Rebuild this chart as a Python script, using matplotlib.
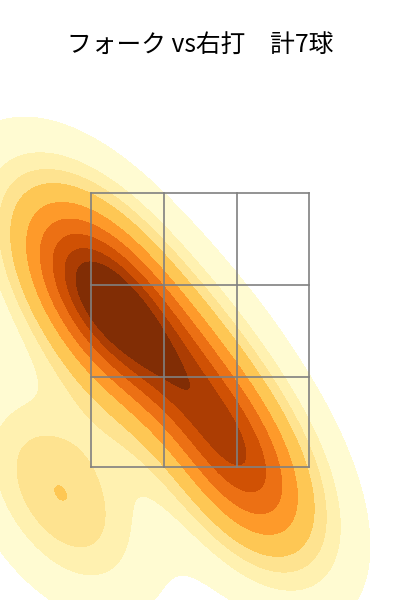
import matplotlib
matplotlib.use("Agg")
import matplotlib.pyplot as plt
import seaborn as sns

plate_x = [-1.07, -1.023, -0.702, -0.63, -0.076, 0.305, 0.397]
plate_z = [1.30, 2.996, 2.901, 2.41, 2.266, 1.624, 1.318]
zone_x = [-0.832, -0.275, 0.282, 0.832]
zone_z = [1.50, 2.157, 2.828, 3.50]
title = "フォーク vs右打　計7球"

fig = plt.figure(figsize=(4, 6), dpi=100)
ax = fig.add_axes([0, 0, 1, 1])
sns.kdeplot(x=plate_x, y=plate_z, fill=True, cmap="YlOrBr", levels=10, thresh=0.05, ax=ax)
for x in zone_x:
    ax.plot([x, x], [zone_z[0], zone_z[-1]], color="gray", lw=1.2)
for z in zone_z:
    ax.plot([zone_x[0], zone_x[-1]], [z, z], color="gray", lw=1.2)
ax.set_xlim(-1.527, 1.527)
ax.set_ylim(0.529, 4.909)
ax.axis("off")
fig.text(0.5, 1 - 44.5 / 600, title, ha="center", va="center", fontsize=17.8,
         family=["Noto Sans CJK JP", "DejaVu Sans"])
fig.savefig("out.png", dpi=100)
